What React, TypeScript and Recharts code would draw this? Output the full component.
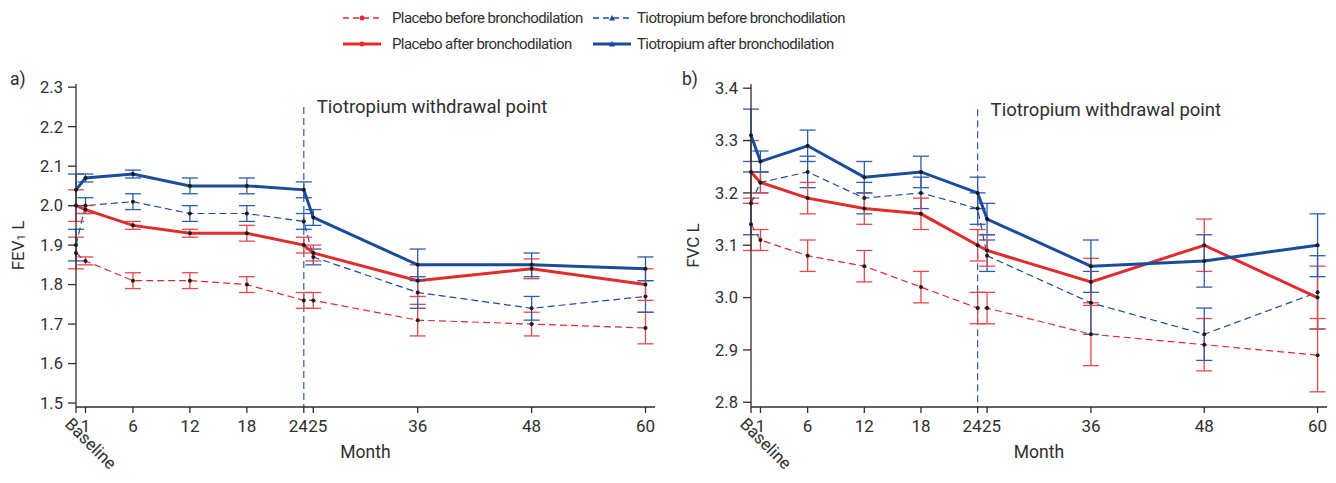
import React from "react";
import { LineChart, Line, XAxis, YAxis, ErrorBar, ReferenceLine } from "recharts";

const MONTHS = [0, 1, 6, 12, 18, 24, 25, 36, 48, 60];

// a) FEV1, litres
const fevPlaceboBefore = [1.88, 1.86, 1.81, 1.81, 1.8, 1.76, 1.76, 1.71, 1.7, 1.69];
const fevPlaceboBeforeErr = [0.04, 0.01, 0.02, 0.02, 0.02, 0.02, 0.02, 0.04, 0.03, 0.04];
const fevTioBefore = [1.9, 2.0, 2.01, 1.98, 1.98, 1.96, 1.87, 1.78, 1.74, 1.77];
const fevTioBeforeErr = [0.04, 0.02, 0.02, 0.02, 0.02, 0.02, 0.02, 0.04, 0.03, 0.04];
const fevPlaceboAfter = [2.0, 1.99, 1.95, 1.93, 1.93, 1.9, 1.88, 1.81, 1.84, 1.8];
const fevPlaceboAfterErr = [0.04, 0.01, 0.01, 0.01, 0.02, 0.02, 0.02, 0.04, 0.025, 0.04];
const fevTioAfter = [2.04, 2.07, 2.08, 2.05, 2.05, 2.04, 1.97, 1.85, 1.85, 1.84];
const fevTioAfterErr = [0.04, 0.01, 0.01, 0.02, 0.02, 0.02, 0.02, 0.04, 0.03, 0.03];
const FEV_TICKS = [1.5, 1.6, 1.7, 1.8, 1.9, 2.0, 2.1, 2.2, 2.3];

// b) FVC, litres
const fvcPlaceboBefore = [3.14, 3.11, 3.08, 3.06, 3.02, 2.98, 2.98, 2.93, 2.91, 2.89];
const fvcPlaceboBeforeErr = [0.05, 0.02, 0.03, 0.03, 0.03, 0.03, 0.03, 0.06, 0.05, 0.07];
const fvcTioBefore = [3.18, 3.22, 3.24, 3.19, 3.2, 3.17, 3.08, 2.99, 2.93, 3.01];
const fvcTioBeforeErr = [0.06, 0.02, 0.03, 0.03, 0.03, 0.03, 0.03, 0.06, 0.05, 0.07];
const fvcPlaceboAfter = [3.24, 3.22, 3.19, 3.17, 3.16, 3.1, 3.09, 3.03, 3.1, 3.0];
const fvcPlaceboAfterErr = [0.06, 0.02, 0.03, 0.03, 0.03, 0.03, 0.03, 0.045, 0.05, 0.06];
const fvcTioAfter = [3.31, 3.26, 3.29, 3.23, 3.24, 3.2, 3.15, 3.06, 3.07, 3.1];
const fvcTioAfterErr = [0.05, 0.02, 0.03, 0.03, 0.03, 0.03, 0.03, 0.05, 0.05, 0.06];
const FVC_TICKS = [2.8, 2.9, 3.0, 3.1, 3.2, 3.3, 3.4];

const FONT = "Roboto, 'DejaVu Sans', sans-serif";
const RED = "#e32b2e";
const RED_ERR = "#e9474b";
const BLUE = "#1b4c9c";
const BLUE_ERR = "#2c5dad";
const INK = "#2e2e2e";

const SERIES = [
  { key: "pbBefore", name: "Placebo before bronchodilation", color: RED, err: RED_ERR, dashed: true, marker: "dot" },
  { key: "tioBefore", name: "Tiotropium before bronchodilation", color: BLUE, err: BLUE_ERR, dashed: true, marker: "tri" },
  { key: "pbAfter", name: "Placebo after bronchodilation", color: RED, err: RED_ERR, dashed: false, marker: "dot" },
  { key: "tioAfter", name: "Tiotropium after bronchodilation", color: BLUE, err: BLUE_ERR, dashed: false, marker: "tri" },
];

function buildRows(vals: number[][]) {
  return MONTHS.map((m, i) => ({
    month: m,
    pbBefore: vals[0][i],
    pbBeforeErr: vals[1][i],
    tioBefore: vals[2][i],
    tioBeforeErr: vals[3][i],
    pbAfter: vals[4][i],
    pbAfterErr: vals[5][i],
    tioAfter: vals[6][i],
    tioAfterErr: vals[7][i],
  }));
}

const fevRows = buildRows([
  fevPlaceboBefore, fevPlaceboBeforeErr, fevTioBefore, fevTioBeforeErr,
  fevPlaceboAfter, fevPlaceboAfterErr, fevTioAfter, fevTioAfterErr,
]);
const fvcRows = buildRows([
  fvcPlaceboBefore, fvcPlaceboBeforeErr, fvcTioBefore, fvcTioBeforeErr,
  fvcPlaceboAfter, fvcPlaceboAfterErr, fvcTioAfter, fvcTioAfterErr,
]);

const MonthTick = (props: any) => {
  const { x, y, payload } = props;
  if (payload.value === 0) {
    const bx = x - 12;
    const by = y + 5;
    return (
      <text x={bx} y={by} transform={`rotate(45 ${bx} ${by})`} fontSize={17} fill={INK} fontFamily={FONT}>
        Baseline
      </text>
    );
  }
  // 24 and 25 sit next to each other, so nudge them apart
  let dx = 0;
  if (payload.value === 24) dx = -5.5;
  if (payload.value === 25) dx = 4.5;
  return (
    <text x={x + dx} y={y} dy="0.71em" textAnchor="middle" fontSize={17} fill={INK} fontFamily={FONT}>
      {payload.value}
    </text>
  );
};

function Panel(props: {
  rows: any[];
  width: number;
  yAxisWidth: number;
  rightMargin: number;
  domain: [number, number];
  ticks: number[];
  title: React.ReactNode;
  lineTop: number;
}) {
  const { rows, width, yAxisWidth, rightMargin, domain, ticks, title, lineTop } = props;
  return (
    <LineChart
      width={width}
      height={423}
      data={rows}
      margin={{ top: 24, right: rightMargin, left: 0, bottom: 36 }}
    >
      <XAxis
        dataKey="month"
        type="number"
        domain={[0, 61]}
        ticks={MONTHS}
        interval={0}
        height={40}
        tickSize={6}
        tickMargin={7}
        tick={<MonthTick />}
        stroke={INK}
        strokeWidth={1.3}
        label={(p: any) => (
          <text
            x={p.viewBox.x + p.viewBox.width / 2}
            y={p.viewBox.y + 51}
            textAnchor="middle"
            fontSize={17.5}
            fill={INK}
            fontFamily={FONT}
          >
            Month
          </text>
        )}
      />
      <YAxis
        type="number"
        domain={domain}
        ticks={ticks}
        interval={0}
        width={yAxisWidth}
        tickSize={8}
        tickMargin={5}
        tickFormatter={(v: number) => v.toFixed(1)}
        tick={{ fontSize: 16.5, fill: INK, fontFamily: FONT }}
        stroke={INK}
        strokeWidth={1.3}
        allowDataOverflow
        label={(p: any) => {
          const cy = p.viewBox.y + p.viewBox.height / 2;
          const cx = yAxisWidth - 58;
          return (
            <text
              x={cx}
              y={cy}
              transform={`rotate(-90 ${cx} ${cy})`}
              textAnchor="middle"
              dominantBaseline="central"
              fontSize={17}
              fill={INK}
              fontFamily={FONT}
            >
              {title}
            </text>
          );
        }}
      />
      <ReferenceLine
        segment={[
          { x: 24, y: lineTop },
          { x: 24, y: domain[0] },
        ]}
        stroke={BLUE_ERR}
        strokeWidth={1.2}
        strokeDasharray="7 4"
        label={(p: any) => (
          <text x={p.viewBox.x + 13} y={p.viewBox.y + 6.5} fontSize={18.5} fill={INK} fontFamily={FONT}>
            Tiotropium withdrawal point
          </text>
        )}
      />
      {SERIES.map((s) => (
        <Line
          key={s.key}
          type="linear"
          dataKey={s.key}
          name={s.name}
          stroke={s.color}
          strokeWidth={s.dashed ? 1.2 : 3}
          strokeDasharray={s.dashed ? "7 4" : undefined}
          dot={{ r: 2, fill: "#1a1a1a", stroke: "none" }}
          activeDot={false}
          isAnimationActive={false}
        >
          <ErrorBar dataKey={`${s.key}Err`} width={8} stroke={s.err} strokeWidth={1.3} direction="y" />
        </Line>
      ))}
    </LineChart>
  );
}

function LegendIcon({ color, dashed, marker }: { color: string; dashed: boolean; marker: string }) {
  return (
    <svg width={40} height={10} style={{ display: "block" }}>
      <line
        x1={1}
        y1={5}
        x2={39}
        y2={5}
        stroke={color}
        strokeWidth={dashed ? 1.3 : 3}
        strokeDasharray={dashed ? "6 4" : undefined}
      />
      {marker === "dot" ? (
        <circle cx={20} cy={5} r={2.5} fill={color} />
      ) : (
        <polygon points="20,2 23,7.5 17,7.5" fill={color} />
      )}
    </svg>
  );
}

const LEGEND_POS = [
  { left: 342, top: 18 },
  { left: 592, top: 18 },
  { left: 342, top: 44 },
  { left: 592, top: 44 },
];

export default function App() {
  return (
    <div
      style={{
        position: "absolute",
        left: 0,
        top: 0,
        width: 1336,
        height: 483,
        background: "#fff",
        fontFamily: FONT,
        color: INK,
      }}
    >
      {SERIES.map((s, i) => (
        <div
          key={s.key}
          style={{
            position: "absolute",
            left: LEGEND_POS[i].left,
            top: LEGEND_POS[i].top - 10,
            height: 20,
            display: "flex",
            alignItems: "center",
            fontSize: 15,
            letterSpacing: -0.6,
            whiteSpace: "nowrap",
          }}
        >
          <LegendIcon color={s.color} dashed={s.dashed} marker={s.marker} />
          <span style={{ marginLeft: i % 2 === 0 ? 10 : 5 }}>{s.name}</span>
        </div>
      ))}

      <div style={{ position: "absolute", left: 10, top: 69, fontSize: 17.5 }}>a)</div>
      <div style={{ position: "absolute", left: 682, top: 69, fontSize: 17.5 }}>b)</div>

      <div style={{ position: "absolute", left: 0, top: 60 }}>
        <Panel
          rows={fevRows}
          width={670}
          yAxisWidth={76}
          rightMargin={15}
          domain={[1.49, 2.308]}
          ticks={FEV_TICKS}
          lineTop={2.25}
          title={
            <>
              FEV<tspan fontSize={11.5} dy={3}>1</tspan>
              <tspan dy={-3}> L</tspan>
            </>
          }
        />
      </div>
      <div style={{ position: "absolute", left: 670, top: 60 }}>
        <Panel
          rows={fvcRows}
          width={666}
          yAxisWidth={81}
          rightMargin={9}
          domain={[2.791, 3.408]}
          ticks={FVC_TICKS}
          lineTop={3.36}
          title="FVC L"
        />
      </div>
    </div>
  );
}
